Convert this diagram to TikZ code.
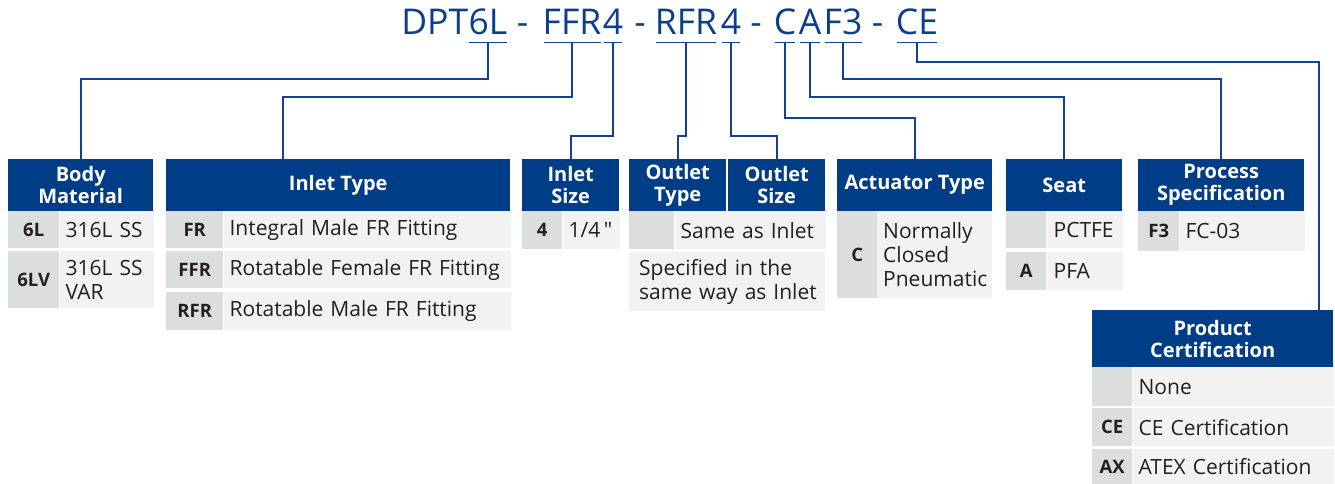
\documentclass[tikz,border=0pt]{standalone}
\usepackage{fontspec}
\setmainfont{Open Sans}
\usetikzlibrary{positioning}
\definecolor{hdrblue}{HTML}{003D87}
\definecolor{titleblue}{HTML}{0B3F8C}
\definecolor{wireblue}{HTML}{0E4491}
\definecolor{codegray}{HTML}{DCDDDD}
\definecolor{valgray}{HTML}{F2F2F2}
\definecolor{ink}{HTML}{231F20}

\begin{document}
\begin{tikzpicture}[
  x=1pt, y=-1pt,
  hdrcell/.style={fill=hdrblue, text=white, font=\bfseries\fontsize{20}{22}\selectfont, align=center, anchor=north west, inner sep=0, minimum height=52},
  codecell/.style={fill=codegray, text=ink, font=\bfseries\fontsize{18.5}{22}\selectfont, anchor=north west, inner sep=0},
  valcell/.style={fill=valgray, text=ink, font=\fontsize{21}{24}\selectfont, anchor=north west, inner xsep=6, inner ysep=0, align=left},
  seg/.style={text=titleblue, font=\fontsize{35.5}{40}\selectfont, inner sep=0, anchor=base},
  wire/.style={draw=wireblue, line width=1.8pt}
]
  \useasboundingbox (0,0) rectangle (1335,484);

  % ordering code
  \node[seg] (t6L) at (488,35) {6L};
  \node[seg, anchor=base east] (tDPT) at (t6L.base west) {DPT};
  \node[seg] (d1) at (522.5,35) {-};
  \node[seg] (tFFR) at (572,35) {FFR};
  \node[seg] (tIn4) at (613,35) {4};
  \node[seg] (d2) at (640,35) {-};
  \node[seg] (tRFR) at (686,35) {RFR};
  \node[seg] (tOut4) at (731,35) {4};
  \node[seg] (d3) at (756,35) {-};
  \node[seg] (tC) at (785,35) {C};
  \node[seg] (tA) at (810,35) {A};
  \node[seg] (tF3) at (843,35) {F3};
  \node[seg] (d4) at (877.5,35) {-};
  \node[seg] (tCE) at (917,35) {CE};

  \foreach \s in {t6L,tFFR,tIn4,tRFR,tOut4,tC,tA,tF3,tCE}
    \draw[wire] ([xshift=1,yshift=-7.5]\s.base west) -- ([xshift=-1,yshift=-7.5]\s.base east);

  % body material
  \node[hdrcell, minimum width=145] (bm) at (8,159) {Body\\Material};
  \node[codecell, minimum width=51, minimum height=37] (bm1c) at (8,211) {6L};
  \node[valcell, minimum width=94, minimum height=37, text width=82, right=0pt of bm1c] (bm1v) {316L SS};
  \node[codecell, minimum width=51, minimum height=57] (bm2c) at (8,251) {6LV};
  \node[valcell, minimum width=94, minimum height=57, text width=82, right=0pt of bm2c] (bm2v) {316L SS\\VAR};

  % inlet type
  \node[hdrcell, minimum width=344] (it) at (166,159) {Inlet Type};
  \node[codecell, minimum width=57, minimum height=37] (it1c) at (166,211) {FR};
  \node[valcell, minimum width=287, minimum height=37, text width=275, right=0pt of it1c] (it1v) {Integral Male FR Fitting};
  \node[codecell, minimum width=57, minimum height=37] (it2c) at (166,251) {FFR};
  \node[valcell, minimum width=287, minimum height=37, text width=275, right=0pt of it2c] (it2v) {Rotatable Female FR Fitting};
  \node[codecell, minimum width=57, minimum height=38] (it3c) at (166,292) {RFR};
  \node[valcell, minimum width=287, minimum height=38, text width=275, right=0pt of it3c] (it3v) {Rotatable Male FR Fitting};

  % inlet size
  \node[hdrcell, minimum width=97] (is) at (522,159) {Inlet\\Size};
  \node[codecell, minimum width=40, minimum height=38] (is1c) at (522,211) {4};
  \node[valcell, minimum width=57, minimum height=38, text width=45, right=0pt of is1c] (is1v) {1/4\,\textquotedbl};

  % outlet type and size
  \node[hdrcell, minimum width=97] (ot) at (629,159) {Outlet\\Type};
  \node[hdrcell, minimum width=97] (os) at (728,159) {Outlet\\Size};
  \node[codecell, minimum width=45, minimum height=38] (ot1c) at (629,211) {};
  \node[valcell, minimum width=151, minimum height=38, text width=139, right=0pt of ot1c] (ot1v) {Same as Inlet};
  \node[valcell, minimum width=196, minimum height=59, text width=184, inner xsep=6] (ot2v) at (629,252) {\hspace{4pt}Specified in the\\\hspace{4pt}same way as Inlet};

  % actuator type
  \node[hdrcell, minimum width=155] (at) at (837,159) {Actuator Type};
  \node[codecell, minimum width=40, minimum height=87] (at1c) at (837,211) {C};
  \node[valcell, minimum width=115, minimum height=87, text width=103] (at1v) at (877,211) {Normally\\Closed\\Pneumatic};

  % seat
  \node[hdrcell, minimum width=116] (st) at (1006,159) {Seat};
  \node[codecell, minimum width=40, minimum height=37] (st1c) at (1006,211) {};
  \node[valcell, minimum width=76, minimum height=37, text width=62, inner xsep=7, right=0pt of st1c] (st1v) {PCTFE};
  \node[codecell, minimum width=40, minimum height=38] (st2c) at (1006,252) {A};
  \node[valcell, minimum width=76, minimum height=38, text width=62, inner xsep=7, right=0pt of st2c] (st2v) {PFA};

  % process specification
  \node[hdrcell, minimum width=166] (ps) at (1138,159) {Process\\Specification};
  \node[codecell, minimum width=41, minimum height=40] (ps1c) at (1138,211) {F3};
  \node[valcell, minimum width=125, minimum height=40, text width=113, right=0pt of ps1c] (ps1v) {FC-03};

  % product certification
  \node[hdrcell, minimum width=241, minimum height=57] (pc) at (1092,310) {Product\\Certification};
  \node[codecell, minimum width=40, minimum height=39] (pc1c) at (1092,367) {};
  \node[valcell, minimum width=201, minimum height=39, text width=189, right=0pt of pc1c] (pc1v) {None};
  \node[codecell, minimum width=40, minimum height=38] (pc2c) at (1092,408) {CE};
  \node[valcell, minimum width=201, minimum height=38, text width=189, right=0pt of pc2c] (pc2v) {CE Certification};
  \node[codecell, minimum width=40, minimum height=35] (pc3c) at (1092,449) {AX};
  \node[valcell, minimum width=201, minimum height=35, text width=189, right=0pt of pc3c] (pc3v) {ATEX Certification};

  % leader lines
  \draw[wire] ([yshift=-7.5]t6L.base) -- ++(0,36.5) -| (bm.north);
  \draw[wire] ([yshift=-7.5]tFFR.base) -- ++(0,54.5) -| ([xshift=-55]it.north);
  \draw[wire] ([yshift=-7.5]tIn4.base) -- ++(0,93.5) -| (is.north);
  \draw[wire] ([yshift=-7.5]tRFR.base) -- ++(0,93.5) -| (ot.north);
  \draw[wire] ([yshift=-7.5]tOut4.base) -- ++(0,93.5) -| (os.north);
  \draw[wire] ([yshift=-7.5]tC.base) -- ++(0,75.5) -| (at.north);
  \draw[wire] ([yshift=-7.5]tA.base) -- ++(0,54.5) -| (st.north);
  \draw[wire] ([yshift=-7.5]tF3.base) -- ++(0,36.5) -| (ps.north);
  \draw[wire] ([yshift=-7.5]tCE.base) -- ++(0,19.5) -| ([xshift=106]pc.north);
\end{tikzpicture}
\end{document}
